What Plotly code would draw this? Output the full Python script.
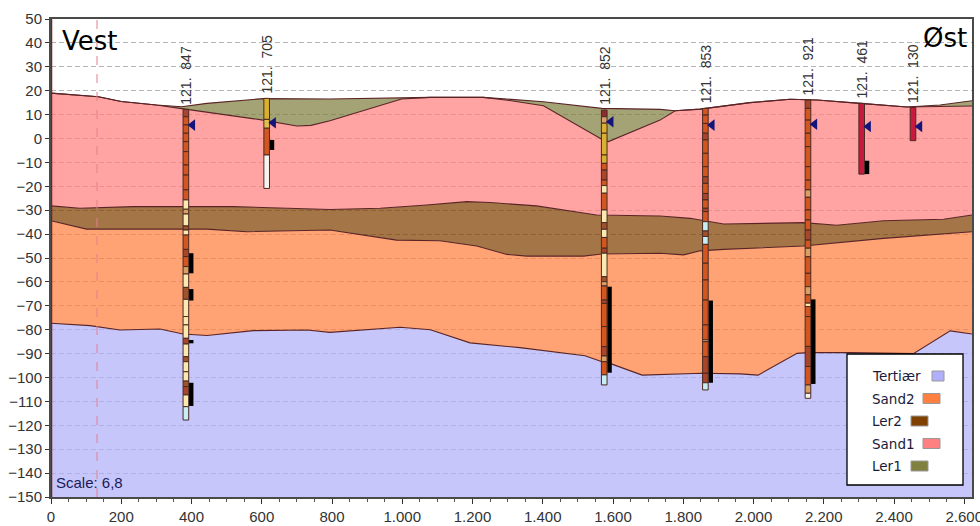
import numpy as np
import plotly.graph_objects as go

# ---- geological layer tops (distance, elevation) ----
ler1_x = [0, 100, 135, 200, 300, 372, 444, 604, 794, 1079, 1231, 1402, 1568, 1734, 1777, 1848, 1990, 2104, 2181, 2304, 2437, 2531, 2622]
ler1_y = [19, 18, 17.5, 15.5, 14, 13.3, 14.7, 16.7, 16.5, 17.2, 17.2, 15.4, 12.6, 12.2, 11.6, 12.3, 15, 16.4, 16.1, 14.7, 13.2, 14, 15.8]
sand1_x = [0, 100, 135, 200, 300, 372, 444, 604, 700, 740, 794, 900, 998, 1079, 1231, 1300, 1402, 1568, 1587, 1734, 1777, 1848, 1990, 2104, 2181, 2304, 2437, 2622]
sand1_y = [19, 18, 17.5, 15.5, 14, 12.5, 11, 7.7, 5.2, 5.5, 7.4, 12, 16.5, 17.2, 17.2, 16, 13.7, -0.3, -1.3, 7.7, 11.6, 12.3, 15, 16.4, 16.1, 14.7, 13.2, 13.6]
ler2_x = [0, 82, 234, 519, 794, 937, 1070, 1184, 1250, 1382, 1553, 1734, 1820, 1915, 2142, 2237, 2370, 2541, 2622]
ler2_y = [-28.2, -29.2, -28.5, -28.5, -29.7, -29.2, -27.8, -26.4, -26.8, -28.2, -32, -32.4, -33.4, -35.8, -35.2, -36.3, -34.4, -33.8, -32]
sand2_x = [0, 101, 444, 557, 794, 984, 1107, 1212, 1298, 1355, 1516, 1568, 1734, 1801, 1848, 1915, 2142, 2370, 2622]
sand2_y = [-34.4, -37.9, -37.9, -39, -38.3, -42.5, -42.8, -45, -48.5, -49.2, -49.2, -48.3, -48, -48.7, -47, -46.4, -45, -41.8, -39]
tert_x = [0, 111, 196, 310, 376, 444, 576, 729, 794, 994, 1080, 1193, 1335, 1520, 1569, 1597, 1683, 1853, 1962, 2013, 2124, 2155, 2275, 2455, 2560, 2622]
tert_y = [-77.3, -78.3, -80.1, -79.7, -81.8, -82.4, -80.4, -80.1, -81.1, -79, -80, -85.5, -87.5, -90.9, -93.4, -94.4, -99, -98.2, -98.5, -99, -89.9, -89.6, -89.6, -90, -80.5, -81.8]
bottom_x = [0, 2622]
bottom_y = [-150, -150]

layer_names = ["Tertiær", "Sand2", "Ler2", "Sand1", "Ler1"]
layer_rgb = ["176,176,250", "255,128,64", "128,64,0", "255,128,128", "128,128,64"]

# ---- soil colours ----
R = "#D2561F"; D = "#A8452A"; C = "#FBEAB0"; T = "#D9A066"; B = "#A0522D"
L = "#C8EEF5"; G = "#D9B02F"; W = "#F4F4F0"; K = "#C8193F"; M = "#8E2B30"

# ---- boreholes ----
hole_names = ["121. 847", "121. 705", "121. 852", "121. 853", "121. 921", "121. 461", "121. 130"]
hole_x = [384, 614, 1575, 1863, 2155, 2308, 2454]
hole_water = [5.6, 6.6, 7, 5.6, 6, 5, 5]

b847_lev = [12.2, 9.1, 5.7, 2.2, -1.3, -5.5, -11.1, -15.3, -21.5, -25.7, -29.6, -31.6, -36.6, -38.3, -40.4, -46.4, -49.4, -53.6, -56.7, -62.3, -67.3, -74.5, -78, -83.6, -86, -91.3, -93.4, -97.6, -101.5, -103.8, -107.3, -112.2, -117.8]
b847_col = [D, R, R, R, R, R, R, R, R, C, T, C, B, C, R, D, R, T, C, B, C, C, C, D, C, B, C, C, B, D, C, L]
b705_lev = [16.8, 8, 4.3, -6.9, -20.9]
b705_col = [G, "#E2C14A", R, W]
b852_lev = [11.9, 9.1, 6.4, 2.2, -6.9, -10.4, -13.2, -17.4, -19.7, -22.9, -29.9, -35.2, -38, -41.4, -45.9, -48, -57.8, -59.9, -61.7, -67.6, -69, -78.7, -87.1, -91, -93.4, -98.9, -103.1]
b852_col = [M, T, G, G, G, R, D, R, C, R, C, B, C, R, D, C, B, T, R, D, R, R, D, T, R, L]
b853_lev = [12.6, 9.8, 6.3, 2.2, -0.6, -6.2, -11.8, -16, -18.8, -23, -25.7, -29.2, -30.6, -34.8, -38.7, -41, -44.3, -52.2, -59.2, -67.6, -78, -84.3, -85, -91.3, -98.2, -102.2, -105.2]
b853_col = [R, R, R, D, R, R, R, D, R, D, R, D, R, L, B, L, R, R, R, R, R, C, R, D, D, L]
b921_lev = [16.1, 12.6, 7.7, 2.2, -3.4, -11.8, -17.4, -21.5, -24.6, -29.9, -34.1, -38.3, -42.5, -45.9, -49.5, -56.4, -62, -65.4, -68.9, -70.3, -74.5, -87, -95.4, -103.1, -106.6, -108.7]
b921_col = [D, R, R, R, R, R, R, T, R, R, R, D, R, T, R, R, T, R, C, R, R, D, R, T, W]
b461_lev = [14.7, -14.9]
b461_col = [K]
b130_lev = [13, -0.9]
b130_col = [K]
hole_lev = [b847_lev, b705_lev, b852_lev, b853_lev, b921_lev, b461_lev, b130_lev]
hole_col = [b847_col, b705_col, b852_col, b853_col, b921_col, b461_col, b130_col]

# ---- screens: borehole index, top, bottom ----
screen_hole = [0, 0, 0, 0, 1, 2, 3, 4, 5]
screen_top = [-48, -63, -84.3, -102.2, -0.6, -62, -67.8, -67.3, -9.3]
screen_bot = [-56.4, -67.8, -85.7, -111.9, -4.8, -98, -102.2, -102.7, -14.9]

# ---- ticks ----
x_ticks = [0, 200, 400, 600, 800, 1000, 1200, 1400, 1600, 1800, 2000, 2200, 2400, 2600]
x_labels = ["0", "200", "400", "600", "800", "1.000", "1.200", "1.400", "1.600", "1.800", "2.000", "2.200", "2.400", "2.600"]
y_ticks = list(range(-150, 51, 10))

# body margin is removed below, so figure pixels are page pixels
PAGE_L, PAGE_R, PAGE_T, PAGE_B = 51, 972, 19, 497
PW, PH = PAGE_R - PAGE_L, PAGE_B - PAGE_T
FIG_W, FIG_H = 980, 526
XMAX = 2622.0
def px(x): return (x - PAGE_L) / PW
def py(y): return 1 - (y - PAGE_T) / PH

fig = go.Figure()
# layers, bottom up
fig.add_trace(go.Scatter(x=bottom_x, y=bottom_y, mode="lines", line=dict(width=0), showlegend=False, hoverinfo="skip"))
bounds = [(tert_x, tert_y), (sand2_x, sand2_y), (ler2_x, ler2_y), (sand1_x, sand1_y), (ler1_x, ler1_y)]
for (bx, by), rgb, nm in zip(bounds, layer_rgb, layer_names):
    fig.add_trace(go.Scatter(x=bx, y=by, mode="lines", name=nm, fill="tonexty",
                             fillcolor=f"rgba({rgb},0.72)", line=dict(color="#5A2426", width=1.1),
                             showlegend=False))

# screens
for h, t, b in zip(screen_hole, screen_top, screen_bot):
    fig.add_trace(go.Bar(x=[hole_x[h] + 15], y=[t - b], base=[b], width=13, marker=dict(color="#000000", line=dict(width=0)),
                         xaxis="x2", yaxis="y2", showlegend=False))
# boreholes
for name, x0, lev, col in zip(hole_names, hole_x, hole_lev, hole_col):
    lev = np.array(lev, float)
    fig.add_trace(go.Bar(x=[x0] * len(col), y=(lev[:-1] - lev[1:]).tolist(), base=lev[1:].tolist(), width=16, name=name,
                         marker=dict(color=col, line=dict(color="#4A2A22", width=1)),
                         xaxis="x2", yaxis="y2", showlegend=False))
    fig.add_annotation(x=x0, y=lev[0], yshift=3, text=name.replace(" ", "\u00a0\u00a0"), textangle=-90, showarrow=False,
                       yanchor="bottom", xanchor="center",
                       font=dict(family="Liberation Sans", size=14, color="#333333"))
# water-level arrows
fig.add_trace(go.Scatter(x=[v + 19 for v in hole_x], y=hole_water, mode="markers", xaxis="x2", yaxis="y2",
                         marker=dict(symbol="triangle-left", size=10, color="#14147A", line=dict(width=0)), showlegend=False))

shapes = [
    dict(type="line", xref="x", yref="paper", x0=131, x1=131, y0=0, y1=1, line=dict(color="#E3808E", width=1, dash="dash"), layer="above"),
    dict(type="line", xref="x", yref="paper", x0=0, x1=0, y0=0, y1=1, line=dict(color="#8B1A1A", width=2.5), layer="above"),
    dict(type="rect", xref="paper", yref="paper", x0=px(847), x1=px(963), y0=py(485), y1=py(354),
         fillcolor="white", line=dict(color="black", width=1.3), layer="above"),
]
ann = [
    dict(x=px(60), y=py(41), text="Vest", size=26, color="black", family="DejaVu Sans"),
    dict(x=px(921), y=py(38), text="Øst", size=26, color="black", family="DejaVu Sans"),
    dict(x=px(54), y=py(482), text="Scale: 6,8", size=15, color="#1A1A5A", family="Liberation Sans"),
]
# legend box: label on the left, swatch on the right
swatch_left = [932, 923, 911, 923, 911]
swatch_w = [12, 17, 17, 17, 17]
for i, nm in enumerate(layer_names):
    yc = 376 + i * 22.5
    ann.append(dict(x=px(870), y=py(yc), text=nm, size=13.5, color="#1A1A3A", family="DejaVu Sans"))
    shapes.append(dict(type="rect", xref="paper", yref="paper", x0=px(swatch_left[i]), x1=px(swatch_left[i] + swatch_w[i]),
                       y0=py(yc + 5), y1=py(yc - 5), fillcolor=f"rgb({layer_rgb[i]})", line=dict(color="#999999", width=1), layer="above"))
for a in ann:
    fig.add_annotation(x=a["x"], y=a["y"], xref="paper", yref="paper", text=a["text"], showarrow=False, xanchor="left", yanchor="middle",
                       font=dict(family=a["family"], size=a["size"], color=a["color"]))

fig.update_layout(
    width=FIG_W, height=FIG_H, autosize=False,
    margin=dict(l=PAGE_L, r=FIG_W - PAGE_R, t=PAGE_T, b=FIG_H - PAGE_B, pad=0),
    paper_bgcolor="white", plot_bgcolor="white", barmode="overlay", showlegend=False, shapes=shapes,
    font=dict(family="Liberation Sans", size=15, color="#333333"),
    xaxis=dict(range=[0, XMAX], tickmode="array", tickvals=x_ticks, ticktext=x_labels, ticks="outside", ticklen=5, tickcolor="#333333",
               minor=dict(dtick=50, ticks="outside", ticklen=3, tickcolor="#555555"), showgrid=False, zeroline=False, automargin=False,
               ticklabeloverflow="allow", showline=True, linecolor="#4A4A4A", linewidth=2, mirror=True, tickfont=dict(size=15, color="#333333")),
    yaxis=dict(range=[-150, 50], tickmode="array", tickvals=y_ticks, ticks="outside", ticklen=4, tickcolor="#333333", automargin=False,
               showgrid=True, gridcolor="#B4B4B4", griddash="5px,3px", gridwidth=1, zeroline=False, ticklabeloverflow="allow",
               showline=True, linecolor="#4A4A4A", linewidth=2, mirror=True, tickfont=dict(size=15, color="#333333")),
    xaxis2=dict(overlaying="x", matches="x", visible=False, automargin=False),
    yaxis2=dict(overlaying="y", matches="y", visible=False, automargin=False),
)
fig.write_html("out.html", default_width=f"{FIG_W}px", default_height=f"{FIG_H}px",
               config={"displayModeBar": False},
               post_script="document.body.style.margin='0';")
